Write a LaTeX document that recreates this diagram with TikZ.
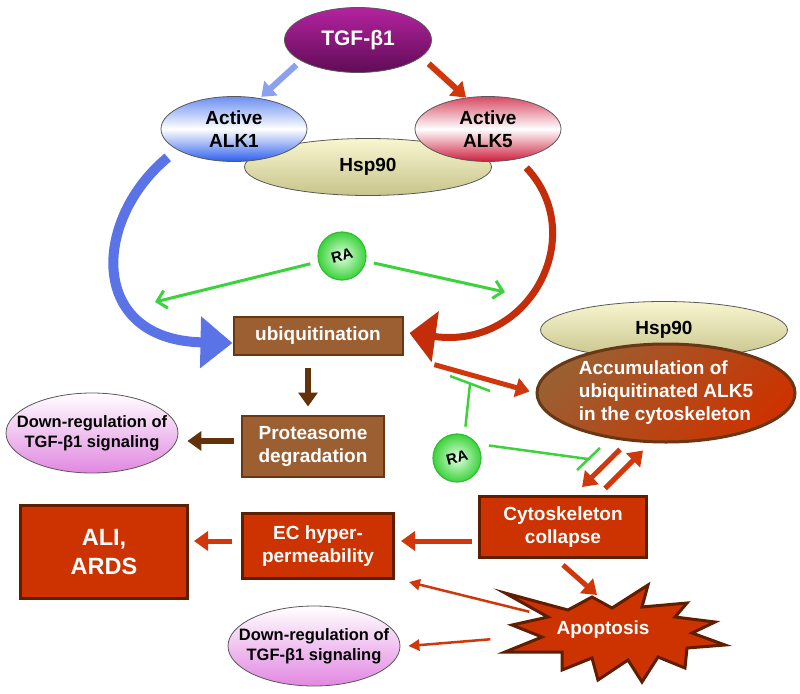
\documentclass[tikz,border=0pt]{standalone}
\usepackage{fontspec}
\setmainfont{Liberation Sans}
\usepackage{graphicx}
\usetikzlibrary{arrows.meta,shapes.geometric}

\definecolor{tgftop}{RGB}{180,35,160}
\definecolor{tgfbottom}{RGB}{95,12,85}
\definecolor{alkblue}{RGB}{45,95,235}
\definecolor{alkred}{RGB}{205,30,60}
\definecolor{hsplight}{RGB}{248,246,208}
\definecolor{hspdark}{RGB}{200,196,140}
\definecolor{boxbrown}{RGB}{155,95,50}
\definecolor{linebrown}{RGB}{105,55,20}
\definecolor{boxred}{RGB}{204,51,0}
\definecolor{linered}{RGB}{95,30,0}
\definecolor{arrowred}{RGB}{208,55,10}
\definecolor{arrowbrown}{RGB}{100,50,10}
\definecolor{arrowblue}{RGB}{140,160,240}
\definecolor{bandblue}{RGB}{90,115,230}
\definecolor{bandred}{RGB}{195,45,10}
\definecolor{ragreen}{RGB}{60,210,60}
\definecolor{ragreenlight}{RGB}{225,255,225}
\definecolor{raline}{RGB}{50,190,50}
\definecolor{pinkreg}{RGB}{225,135,225}

\begin{document}
\begin{tikzpicture}[x=1pt, y=1pt,
    txt/.style={font=\fontsize{19}{23}\selectfont\bfseries, align=center},
    oval/.style={ellipse, draw=black!65, line width=0.8pt, inner sep=-40pt, txt},
    downreg/.style={oval, top color=white, bottom color=pinkreg, minimum width=172pt, minimum height=80pt, font=\fontsize{16.5}{20}\selectfont\bfseries},
    hspnode/.style={oval, top color=hsplight, bottom color=hspdark, minimum width=247pt, minimum height=57pt},
    alknode/.style={oval, minimum width=146pt, minimum height=65pt},
    brownbx/.style={rectangle, inner sep=0pt, txt, text=white, fill=boxbrown, draw=linebrown, line width=2pt},
    redbx/.style={rectangle, inner sep=0pt, txt, text=white, fill=boxred, draw=linered, line width=3pt},
    ranode/.style={circle, minimum size=48pt, inner sep=0pt, inner color=ragreenlight, outer color=ragreen, draw=raline, line width=1.2pt, font=\fontsize{15}{15}\selectfont\bfseries},
    redarrow/.style={draw=arrowred, line width=5pt, -{Triangle[length=14pt,width=19pt]}},
    brownarrow/.style={draw=arrowbrown, line width=6pt, -{Triangle[length=14pt,width=19pt]}},
    thinarrow/.style={draw=arrowred, line width=2.5pt, -{Triangle[length=11pt,width=11pt]}},
    raarrow/.style={draw=ragreen, line width=3pt, -{Straight Barb[length=9pt,width=18pt]}},
    rastop/.style={draw=ragreen, line width=2.5pt},
    blueband/.style={draw=bandblue, line width=10pt, shorten <=12pt, -{Triangle[length=32pt,width=50pt]}},
    redband/.style={draw=bandred, line width=7pt, shorten <=12pt, -{Triangle[length=26pt,width=50pt]}}
  ]
  \fill[white] (0,0) rectangle (800,-693);
  \useasboundingbox (0,0) rectangle (800,-693);

  \node (hspA) at (368,-167) [hspnode] {Hsp90};
  \node (alkA) at (234,-129) [alknode, top color=alkblue!70, bottom color=alkblue, middle color=white] {Active\\ALK1};
  \node (alkB) at (488,-129) [alknode, top color=alkred!80, bottom color=alkred, middle color=white] {Active\\ALK5};
  \node (tgf) at (358,-40) [oval, top color=tgftop, bottom color=tgfbottom, minimum width=147pt, minimum height=65pt, text=white, font=\fontsize{21}{25}\selectfont\bfseries] {TGF-β1};
  \draw[draw=arrowblue, line width=6pt, -{Triangle[length=13pt,width=19pt]}, shorten <=6pt, shorten >=2pt] (tgf.200) -- (alkA.50);
  \draw[redarrow, line width=6pt, shorten <=10pt] (tgf.345) -- (alkB.125);

  \node (raA) at (342,-256) [ranode] {\rotatebox{15}{RA}};
  \coordinate (hitA) at (155,-302);
  \coordinate (hitB) at (505,-292);
  \draw[raarrow, shorten <=8pt] (raA) -- (hitA);
  \draw[raarrow, shorten <=8pt] (raA) -- (hitB);

  \node (ubiq) at (318,-336) [brownbx, minimum width=169pt, minimum height=38pt] {ubiquitination};
  \draw[blueband] (alkA.200) .. controls (92,-220) and (88,-340) .. ([yshift=-7pt]ubiq.west);
  \draw[redband] (alkB.315) .. controls (590,-235) and (530,-350) .. ([shift={(6pt,3pt)}]ubiq.east);

  \node (prot) at (313,-446) [brownbx, minimum width=142pt, minimum height=61pt] {Proteasome\\degradation};
  \draw[brownarrow, shorten <=12pt, shorten >=8pt] ([xshift=-10pt]ubiq.south) -- ([xshift=-5pt]prot.north);
  \node (downA) at (92,-433) [downreg] {Down-regulation of\\TGF-β1 signaling};
  \draw[brownarrow, shorten <=7pt, shorten >=9pt] ([yshift=5pt]prot.west) -- ([yshift=-8pt]downA.east);

  \node (hspB) at (664,-330) [hspnode] {Hsp90};
  \node (accum) at (666,-393) [oval, draw=linebrown, line width=3pt, top color=boxbrown, bottom color=boxred, shading angle=45, minimum width=258pt, minimum height=98pt, text=white, align=left] {Accumulation of\\ubiquitinated ALK5\\in the cytoskeleton};
  \draw[redarrow, shorten <=32pt, shorten >=6pt] (ubiq.south east) -- (accum.west);

  \node (raB) at (457,-458) [ranode] {\rotatebox{15}{RA}};
  \coordinate (stopA) at (470,-384);
  \coordinate (stopB) at (588,-459);
  \draw[rastop, shorten <=8pt] (raB.72) -- (stopA);
  \draw[rastop] ([shift={(-20pt,8pt)}]stopA) -- ([shift={(20pt,-7pt)}]stopA);
  \draw[rastop, shorten <=12pt] (raB.35) -- (stopB);
  \draw[rastop] ([shift={(12pt,11pt)}]stopB) -- ([shift={(-11pt,-11pt)}]stopB);

  \node (cyto) at (563,-527) [redbx, minimum width=167pt, minimum height=61pt] {Cytoskeleton\\collapse};
  \draw[redarrow] ([shift={(-46pt,-6pt)}]accum.south) -- ([shift={(19pt,8pt)}]cyto.north);
  \draw[redarrow] ([shift={(42pt,6.5pt)}]cyto.north) -- ([shift={(-23pt,-7pt)}]accum.south);

  \node (ec) at (318,-546) [redbx, minimum width=151pt, minimum height=65pt] {EC hyper-\\permeability};
  \draw[redarrow, shorten <=6pt, shorten >=6pt] ([yshift=-14pt]cyto.west) -- ([yshift=5pt]ec.east);
  \node (ali) at (104,-552) [redbx, minimum width=167pt, minimum height=93pt, font=\fontsize{23.5}{29}\selectfont\bfseries] {ALI,\\ARDS};
  \draw[redarrow, shorten <=9pt, shorten >=5pt] ([yshift=5pt]ec.west) -- ([yshift=11pt]ali.east);

  \node (downB) at (314,-646) [downreg] {Down-regulation of\\TGF-β1 signaling};

  \begin{scope}[shift={(603,-630)}]
    \draw[fill=boxred, draw=linered, line width=3pt] (-11,33) -- (9,22) -- (45,45) -- (39,23) -- (84,27) -- (72,13)
      -- (112,8) -- (89,-3) -- (122,-15) -- (84,-18) -- (82,-38) -- (55,-27) -- (39,-52) -- (25,-30)
      -- (-5,-50) -- (-11,-28) -- (-41,-40) -- (-41,-22) -- (-98,-22) -- (-61,-7) -- (-91,5) -- (-55,13)
      -- (-98,37) -- (-35,20) -- cycle;
  \end{scope}
  \node (apop) at (603,-630) [txt, text=white] {Apoptosis};
  \draw[redarrow] ([yshift=-6pt]cyto.south) -- ([shift={(-6pt,35pt)}]apop.center);
  \draw[thinarrow, shorten <=76pt] (apop.center) -- ([shift={(14pt,-2pt)}]ec.south east);
  \draw[thinarrow, shorten <=113pt] (apop.center) -- ([xshift=8pt]downB.east);
\end{tikzpicture}
\end{document}
